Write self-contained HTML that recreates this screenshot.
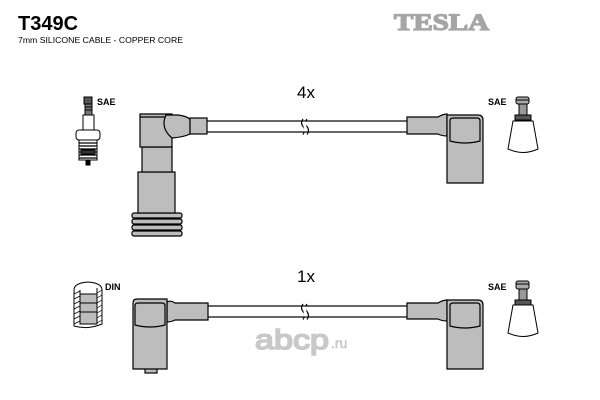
<!DOCTYPE html>
<html><head><meta charset="utf-8"><style>
html,body{margin:0;padding:0;background:#fff;}
svg{display:block;}
</style></head><body>
<svg width="600" height="400" viewBox="0 0 600 400" xmlns="http://www.w3.org/2000/svg">
<rect width="600" height="400" fill="#fff"/>
<!-- Header -->
<text x="18" y="30" font-family="Liberation Sans, sans-serif" font-weight="bold" font-size="20" fill="#000">T349C</text>
<text x="18" y="43" font-family="Liberation Sans, sans-serif" font-size="8" textLength="165" lengthAdjust="spacingAndGlyphs" fill="#000">7mm SILICONE CABLE - COPPER CORE</text>
<text x="394" y="30" font-family="Liberation Serif, serif" font-weight="bold" font-size="23" textLength="95" lengthAdjust="spacingAndGlyphs" fill="#a5a5a5" stroke="#a5a5a5" stroke-width="1.3">TESLA</text>

<!-- Watermark -->
<text x="255" y="349" font-family="Liberation Sans, sans-serif" font-size="28" fill="#c8c8c8" stroke="#c8c8c8" stroke-width="1.6" textLength="74" lengthAdjust="spacingAndGlyphs">abcp</text>
<text x="331" y="348" font-family="Liberation Sans, sans-serif" font-size="14" fill="#c8c8c8" stroke="#c8c8c8" stroke-width="0.5">.ru</text>

<!-- Labels -->
<text x="297" y="98" font-family="Liberation Sans, sans-serif" font-size="17" fill="#000">4x</text>
<text x="297" y="282" font-family="Liberation Sans, sans-serif" font-size="17" fill="#000">1x</text>
<g font-family="Liberation Sans, sans-serif" font-weight="bold" font-size="9" fill="#000">
<text x="97" y="105">SAE</text>
<text x="488" y="105">SAE</text>
<text x="105" y="290">DIN</text>
<text x="488" y="290">SAE</text>
</g>

<g stroke="#000" stroke-width="1.2" fill="#bdbdbd">
<!-- Top cable -->
<rect x="205" y="121" width="204" height="11" fill="#fff"/>
<path d="M303,119 q-3,4 0,7.5 q3,4 0,8" fill="none"/>
<path d="M307,119 q-3,4 0,7.5 q3,4 0,8" fill="none"/>
<rect x="303.6" y="121.6" width="2.8" height="9.8" fill="#fff" stroke="none"/>

<!-- Top-left boot -->
<rect x="132" y="213" width="50" height="5" rx="2"/>
<rect x="132" y="219" width="50" height="5" rx="2"/>
<rect x="132" y="225" width="50" height="5" rx="2"/>
<rect x="132" y="231" width="50" height="5" rx="2"/>
<rect x="138" y="172" width="37" height="41"/>
<rect x="142" y="147" width="30" height="25"/>
<path d="M140,114 L172,114 L172,147 L140,147 Z"/>
<line x1="140" y1="117" x2="168" y2="117"/>
<path d="M166,115 L178,115 Q186,116 190,119 L190,134 Q184,137 172,138 Q160,128 166,115 Z"/>
<rect x="190" y="118" width="17" height="16"/>

<!-- Top-right boot -->
<path d="M407,117 L438,117 Q443,114 447,114 L447,136 Q442,136 438,134 L407,134 Z"/>
<path d="M447,115 L478,115 Q483,115 483,120 L483,183 L447,183 Z"/>
<path d="M450,121 Q450,118 453,118 L477,118 Q480,118 480,121 L480,141 Q465,145 450,141 Z"/>

<!-- Bottom cable -->
<rect x="206" y="306" width="203" height="11" fill="#fff"/>
<path d="M303,304 q-3,4 0,7.5 q3,4 0,8" fill="none"/>
<path d="M307,304 q-3,4 0,7.5 q3,4 0,8" fill="none"/>
<rect x="303.6" y="306.6" width="2.8" height="9.8" fill="#fff" stroke="none"/>

<!-- Bottom-left boot -->
<rect x="145" y="367" width="12" height="6"/>
<path d="M167,302 Q171,300 175,303 L208,303 L208,320 L175,320 Q171,322 167,322 Z"/>
<path d="M137,299 L167,299 L167,369 L133,369 L133,303 Q133,299 137,299 Z"/>
<path d="M135,306 Q135,303 138,303 L162,303 Q165,303 165,306 L165,325 Q150,329 135,325 Z"/>

<!-- Bottom-right boot -->
<path d="M407,303 L438,303 Q443,300 447,300 L447,321 Q442,321 438,319 L407,319 Z"/>
<path d="M447,300 L478,300 Q483,300 483,305 L483,369 L447,369 Z"/>
<path d="M450,306 Q450,303 453,303 L477,303 Q480,303 480,306 L480,326 Q465,330 450,326 Z"/>
</g>

<!-- DIN connector -->
<g stroke="#000" stroke-width="1">
<path d="M74,290 Q74,283 88,282 Q102,283 102,290 L102,324 Q88,330 74,326 Z" fill="#fff"/>
<rect x="80" y="294" width="17" height="30" fill="#bdbdbd"/>
<line x1="80" y1="303" x2="97" y2="303"/>
<line x1="80" y1="312" x2="97" y2="312"/>
<path d="M74,290 L74,326 M80,290 L80,324 M97,288 L97,324 M102,290 L102,324" fill="none"/>
<path d="M74,294 l6,-3 M74,299 l6,-3 M74,304 l6,-3 M74,309 l6,-3 M74,314 l6,-3 M74,319 l6,-3 M74,324 l6,-3 M97,293 l5,-3 M97,298 l5,-3 M97,303 l5,-3 M97,308 l5,-3 M97,313 l5,-3 M97,318 l5,-3 M97,323 l5,-3" fill="none" stroke-width="0.7"/>
</g>

<!-- Left spark plug -->
<g stroke="#000" stroke-width="1">
<rect x="84" y="97" width="8" height="7" fill="#555"/>
<rect x="85" y="104" width="7" height="11" fill="#777"/>
<line x1="85" y1="107" x2="92" y2="107"/>
<line x1="85" y1="110" x2="92" y2="110"/>
<rect x="83" y="115" width="11" height="15" fill="#fff"/>
<rect x="76" y="130" width="24" height="10" rx="3" fill="#fff"/>
<rect x="79" y="140" width="18" height="20" fill="#fff"/>
<path d="M79,143 h18 M79,146 h18 M79,149 h18 M79,152 h18 M79,155 h18 M79,158 h18" fill="none" stroke-width="1.3"/>
<rect x="81" y="150" width="14" height="4" fill="#333"/>
<rect x="86" y="160" width="4" height="5" fill="#000"/>
</g>

<!-- Right SAE connectors -->
<g stroke="#000" stroke-width="1">
<rect x="516" y="97" width="13" height="7" rx="2" fill="#aaa"/>
<line x1="516" y1="100" x2="529" y2="100"/>
<rect x="519" y="104" width="8" height="12" fill="#999"/>
<rect x="515" y="115" width="16" height="5" fill="#555"/>
<path d="M513,121 L533,121 L538,149 Q523,156 508,149 Z" fill="#fff"/>

<rect x="516" y="281" width="13" height="8" rx="2" fill="#aaa"/>
<line x1="516" y1="284" x2="529" y2="284"/>
<rect x="519" y="289" width="8" height="12" fill="#999"/>
<rect x="515" y="300" width="16" height="5" fill="#555"/>
<path d="M513,305 L533,305 L538,333 Q523,340 508,333 Z" fill="#fff"/>
</g>
</svg>
</body></html>
